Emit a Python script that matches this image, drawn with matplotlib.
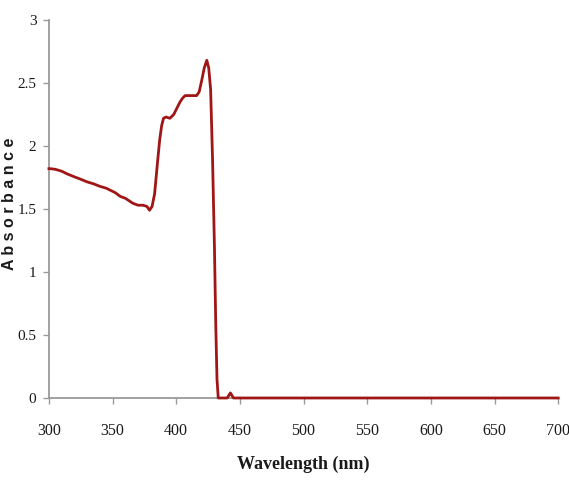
import matplotlib
matplotlib.use("Agg")
import matplotlib.pyplot as plt

wavelength = [300, 301, 305, 310, 314, 320, 324, 330, 335, 340, 345, 348, 352, 356, 360, 366,
              370, 374, 377, 379, 381, 383, 385, 387, 388.5, 390, 392, 395, 398, 401, 403, 405,
              407, 410, 413, 416, 418, 420, 422, 424, 425.5, 427, 428.5, 430, 431, 432, 433,
              436, 440, 442.5, 445, 448, 455, 500, 550, 600, 650, 700]
absorbance = [1.82, 1.82, 1.815, 1.80, 1.78, 1.755, 1.74, 1.715, 1.70, 1.68, 1.665, 1.65, 1.63,
              1.60, 1.585, 1.545, 1.53, 1.53, 1.52, 1.49, 1.52, 1.62, 1.84, 2.05, 2.16, 2.22,
              2.23, 2.22, 2.25, 2.31, 2.35, 2.38, 2.40, 2.40, 2.40, 2.40, 2.43, 2.52, 2.62, 2.68,
              2.62, 2.45, 1.90, 1.20, 0.60, 0.15, 0.0, 0.0, 0.0, 0.04, 0.0, 0.0, 0.0,
              0.0, 0.0, 0.0, 0.0, 0.0]

x_ticks = [300, 350, 400, 450, 500, 550, 600, 650, 700]
y_ticks = [0, 0.5, 1, 1.5, 2, 2.5, 3]
y_tick_labels = ["0", "0.5", "1", "1.5", "2", "2.5", "3"]

fig = plt.figure(figsize=(5.69, 4.84), dpi=100)
ax = fig.add_axes([0.086, 0.1777, 0.895, 0.781])

ax.plot(wavelength, absorbance, color="#a01616", lw=2.0, zorder=3, clip_on=False)

ax.set_xlim(300, 700)
ax.set_ylim(0, 3)
ax.set_xticks(x_ticks)
ax.set_yticks(y_ticks)
ax.set_yticklabels(y_tick_labels)

for s in ["top", "right"]:
    ax.spines[s].set_visible(False)
for s in ["left", "bottom"]:
    ax.spines[s].set_color("#9a9a9a")
    ax.spines[s].set_linewidth(1.3)
ax.tick_params(axis="both", direction="out", color="#9a9a9a", length=4, width=1,
               labelsize=11.5, labelcolor="#1a1a1a")
ax.tick_params(axis="x", pad=14)
ax.tick_params(axis="y", pad=5, labelsize=11)
for lab in ax.get_xticklabels() + ax.get_yticklabels():
    lab.set_fontfamily("Liberation Serif")

ax.set_xlabel("Wavelength (nm)", fontfamily="Liberation Serif", fontweight="bold",
              fontsize=13, labelpad=12, color="#1a1a1a")
ax.set_ylabel("A b s o r b a n c e", fontfamily="Liberation Sans", fontweight="bold",
              fontsize=11.5, labelpad=14, color="#1a1a1a")
ax.yaxis.set_label_coords(-0.063, 0.515)

fig.savefig("out.png", dpi=100)
